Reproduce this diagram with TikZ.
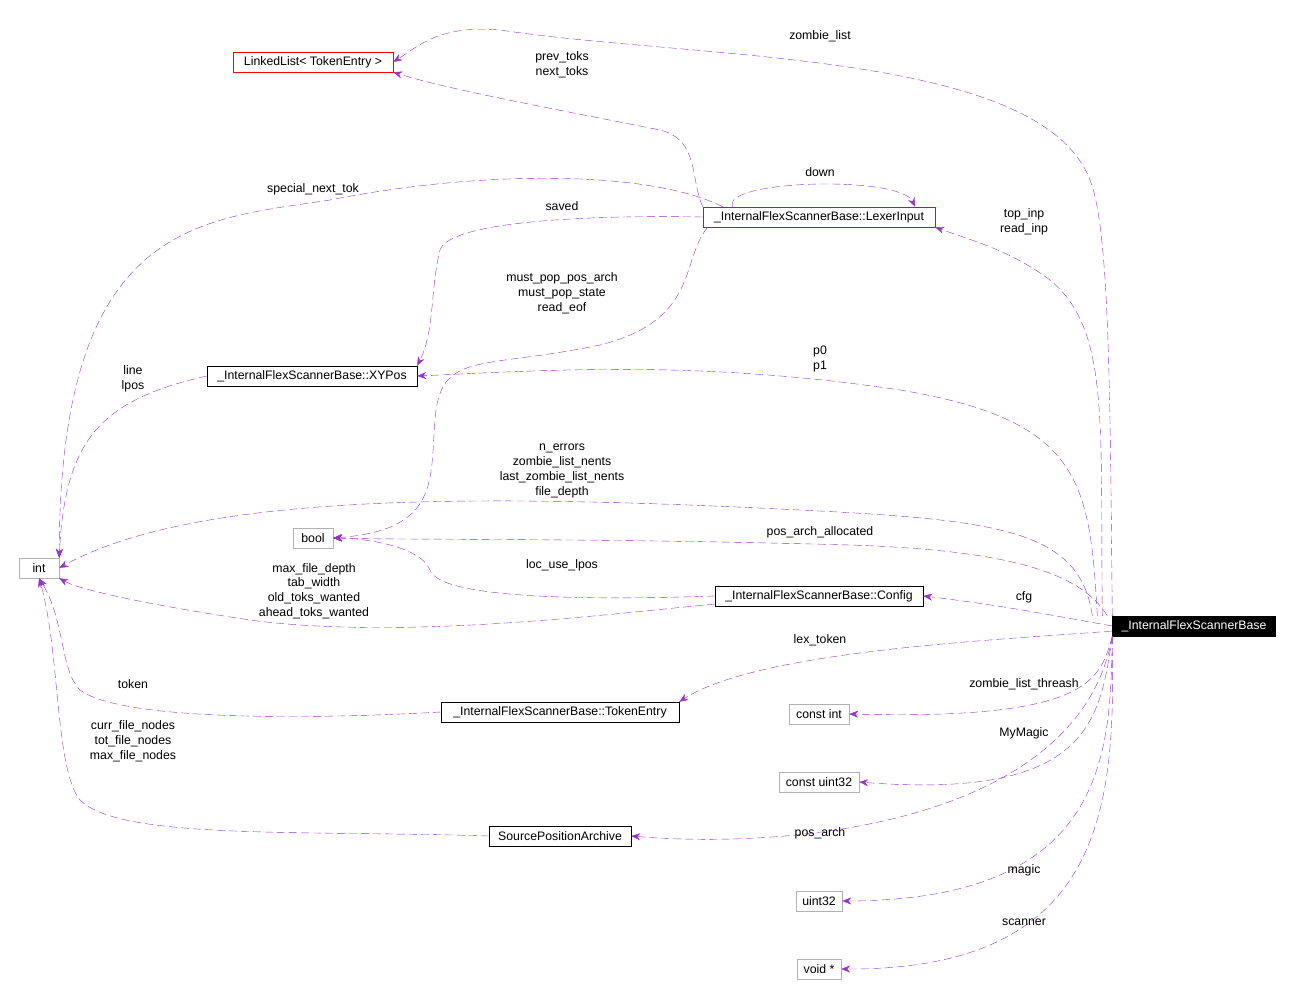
\documentclass[tikz,border=0pt]{standalone}
\usepackage{fontspec}
\setmainfont{Liberation Sans}
\usetikzlibrary{positioning, arrows.meta}
\definecolor{edgecol}{HTML}{9A32CD}
\definecolor{redcol}{HTML}{FF0000}
\tikzset{
  cls/.style={draw=black, rectangle, inner sep=2pt, minimum height=20pt, font=\fontsize{12.3}{13}\selectfont},
  redcls/.style={cls, draw=redcol},
  graycls/.style={cls, draw=gray!60},
  maincls/.style={cls, fill=black, text=white},
  rel/.style={->, dashed, draw=edgecol, dash pattern=on 8pt off 4pt},
  lbl/.style={font=\fontsize{12.3}{14.8}\selectfont, align=center},
}
\begin{document}
\begin{tikzpicture}[x=1pt, y=-1pt, >={Stealth[length=9pt,width=7pt,fill=edgecol]}]
\useasboundingbox (0,0) rectangle (1292,998);

% classes
\node[redcls, minimum width=160pt] (LL) at (313,62) {LinkedList< TokenEntry >};
\node[redcls, minimum width=232pt] (LI) at (819,217) {\_InternalFlexScannerBase::LexerInput};
\node[cls, minimum width=210pt] (XY) at (312,376) {\_InternalFlexScannerBase::XYPos};
\node[graycls, minimum width=40pt] (INT) at (39,568) {int};
\node[graycls, minimum width=40pt] (BOOL) at (313,538) {bool};
\node[cls, minimum width=208pt] (CFG) at (819,596) {\_InternalFlexScannerBase::Config};
\node[maincls, minimum width=163pt] (MAIN) at (1194,626) {\_InternalFlexScannerBase};
\node[cls, minimum width=238pt] (TE) at (560,712) {\_InternalFlexScannerBase::TokenEntry};
\node[graycls, minimum width=60pt] (CI) at (819,714) {const int};
\node[graycls, minimum width=80pt] (CU) at (819,782) {const uint32};
\node[cls, minimum width=142pt] (SPA) at (560,836) {SourcePositionArchive};
\node[graycls, minimum width=46pt] (U32) at (819,901) {uint32};
\node[graycls, minimum width=44pt] (VOID) at (819,969) {void *};

% relations
\draw[rel] (MAIN.north west) .. controls (1110,400) and (1110,230) .. (1090,180)
  .. controls (1040,50) and (700,60) .. (500,30) .. controls (440,25) and (420,45) .. (LL.east);
\node[lbl] at (820,36) {zombie\_list};
\draw[rel] (LI.north west) .. controls (690,180) and (700,140) .. (660,130)
  .. controls (560,110) and (450,90) .. (LL.south east);
\node[lbl] at (562,65) {prev\_toks\\next\_toks};
\draw[rel] (LI.north west) ++(30,0) .. controls (720,180) and (900,175) .. ([xshift=-20pt]LI.north east);
\node[lbl] at (820,172) {down};
\draw[rel] (LI.north west) ++(20,0) .. controls (650,170) and (480,170) .. (330,200)
  .. controls (200,220) and (60,220) .. (INT.north east);
\node[lbl] at (313,189) {special\_next\_tok};
\draw[rel] (LI.west) .. controls (600,215) and (450,220) .. (440,250)
  .. controls (430,290) and (435,330) .. (XY.north east);
\node[lbl] at (562,206) {saved};
\draw[rel] (LI.south west) ++(5,0) .. controls (680,260) and (700,320) .. (600,345)
  .. controls (480,370) and (440,350) .. (435,420) .. controls (430,480) and (440,530) .. (BOOL.east);
\node[lbl] at (562,293) {must\_pop\_pos\_arch\\must\_pop\_state\\read\_eof};
\draw[rel] ([xshift=-10pt]MAIN.north west) .. controls (1100,420) and (1110,330) .. (1050,280)
  .. controls (1010,250) and (970,240) .. (LI.south east);
\node[lbl] at (1024,222) {top\_inp\\read\_inp};
\draw[rel] ([xshift=-15pt]MAIN.north west) .. controls (1090,480) and (1080,420) .. (900,390)
  .. controls (700,360) and (550,370) .. (XY.east);
\node[lbl] at (820,359) {p0\\p1};
\draw[rel] (XY.west) .. controls (100,400) and (65,440) .. (INT.north east);
\node[lbl] at (133,379) {line\\lpos};
\draw[rel] ([xshift=-20pt]MAIN.north west) .. controls (1080,530) and (1000,520) .. (800,510)
  .. controls (500,495) and (200,490) .. (INT.east);
\node[lbl] at (562,471) {n\_errors\\zombie\_list\_nents\\last\_zombie\_list\_nents\\file\_depth};
\draw[rel] ([xshift=-5pt]MAIN.north west) .. controls (1080,570) and (1000,550) .. (850,545)
  .. controls (600,538) and (400,540) .. (BOOL.east);
\node[lbl] at (820,532) {pos\_arch\_allocated};
\draw[rel] (CFG.west) .. controls (600,600) and (440,600) .. (430,570)
  .. controls (420,545) and (360,538) .. (BOOL.east);
\node[lbl] at (562,565) {loc\_use\_lpos};
\draw[rel] (CFG.west) ++(0,8) .. controls (600,615) and (400,640) .. (250,620)
  .. controls (150,605) and (80,590) .. (INT.south east);
\node[lbl] at (314,591) {max\_file\_depth\\tab\_width\\old\_toks\_wanted\\ahead\_toks\_wanted};
\draw[rel] (MAIN.west) .. controls (1050,615) and (1000,605) .. (CFG.east);
\node[lbl] at (1024,597) {cfg};
\draw[rel] (MAIN.west) ++(0,5) .. controls (1000,640) and (760,650) .. (TE.north east);
\node[lbl] at (820,640) {lex\_token};
\draw[rel] (TE.west) .. controls (300,720) and (120,720) .. (80,690)
  .. controls (60,670) and (65,620) .. (INT.south);
\node[lbl] at (133,684) {token};
\draw[rel] (MAIN.south west) .. controls (1100,680) and (1090,720) .. (CI.east);
\node[lbl] at (1024,684) {zombie\_list\_threash};
\draw[rel] (MAIN.south west) .. controls (1100,720) and (1090,800) .. (CU.east);
\node[lbl] at (1024,733) {MyMagic};
\draw[rel] (SPA.west) .. controls (300,830) and (120,840) .. (80,800)
  .. controls (55,770) and (60,650) .. (INT.south);
\node[lbl] at (133,741) {curr\_file\_nodes\\tot\_file\_nodes\\max\_file\_nodes};
\draw[rel] (MAIN.south west) .. controls (1080,820) and (800,850) .. (SPA.east);
\node[lbl] at (820,833) {pos\_arch};
\draw[rel] (MAIN.south west) .. controls (1110,750) and (1110,900) .. (U32.east);
\node[lbl] at (1024,870) {magic};
\draw[rel] (MAIN.south west) .. controls (1115,800) and (1110,970) .. (VOID.east);
\node[lbl] at (1024,922) {scanner};
\end{tikzpicture}
\end{document}
